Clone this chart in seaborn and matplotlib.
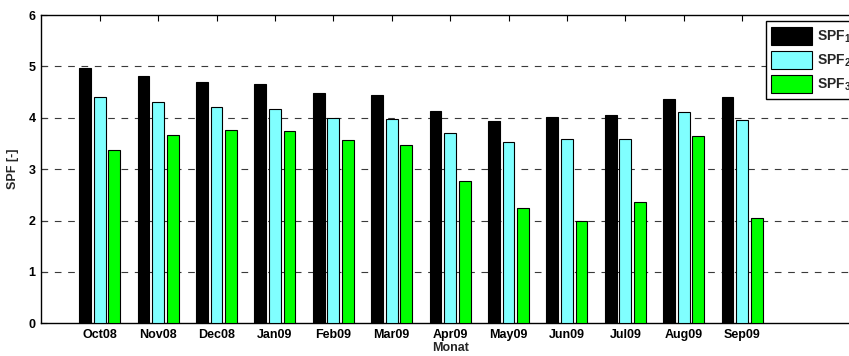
import matplotlib
matplotlib.use("Agg")
import matplotlib.pyplot as plt
import seaborn as sns
import pandas as pd

months = ["Oct08", "Nov08", "Dec08", "Jan09", "Feb09", "Mar09",
          "Apr09", "May09", "Jun09", "Jul09", "Aug09", "Sep09"]
spf1 = [4.96, 4.82, 4.69, 4.66, 4.49, 4.45, 4.14, 3.94, 4.02, 4.06, 4.36, 4.41]
spf2 = [4.41, 4.31, 4.21, 4.18, 4.00, 3.98, 3.71, 3.53, 3.59, 3.59, 4.12, 3.95]
spf3 = [3.37, 3.66, 3.77, 3.74, 3.57, 3.47, 2.77, 2.24, 1.99, 2.36, 3.65, 2.04]
series_labels = ["SPF$_1$", "SPF$_2$", "SPF$_3$"]
colors = ["#000000", "#80ffff", "#00ff00"]

rows = []
for lab, vals in zip(series_labels, [spf1, spf2, spf3]):
    for m, v in zip(months, vals):
        rows.append({"Monat": m, "SPF": v, "Serie": lab})
df = pd.DataFrame(rows)

sns.set_theme(style="white")
plt.rcParams["font.family"] = ["Liberation Sans", "DejaVu Sans"]
plt.rcParams["font.weight"] = "bold"
plt.rcParams["mathtext.fontset"] = "custom"
plt.rcParams["mathtext.rm"] = "Liberation Sans:bold"
plt.rcParams["mathtext.it"] = "Liberation Sans:bold"
plt.rcParams["mathtext.bf"] = "Liberation Sans:bold"

fig = plt.figure(figsize=(8.49, 3.56), dpi=100)
ax = fig.add_axes([41.3 / 849, 1 - 323.3 / 356, 817.6 / 849, 308.3 / 356])

sns.barplot(data=df, x="Monat", y="SPF", hue="Serie", order=months,
            hue_order=series_labels, palette=colors, width=0.75, gap=0.2,
            edgecolor="black", linewidth=0.8, saturation=1, ax=ax, zorder=3)

ax.set_xlim(-1, 13)
ax.set_ylim(0, 6)
ax.set_yticks(range(0, 7))
for y in range(1, 6):
    ax.axhline(y, color="#3a3a3a", linewidth=0.8, linestyle=(0, (6, 6)), zorder=1)

for side in ["top", "left", "bottom", "right"]:
    ax.spines[side].set_color("black")
    ax.spines[side].set_linewidth(1.0)
ax.tick_params(axis="x", which="both", direction="in", length=4, width=0.8,
               top=True, bottom=True, labelsize=9, pad=4, colors="black")
ax.tick_params(axis="y", direction="in", length=4, width=0.8,
               left=True, labelsize=9, pad=4, colors="black")
for t in ax.get_xticklabels() + ax.get_yticklabels():
    t.set_fontweight("bold")

ax.set_xlabel("Monat", fontsize=9, fontweight="bold", labelpad=1)
ax.set_ylabel("SPF [-]", fontsize=9, fontweight="bold", labelpad=7)

handles, labels = ax.get_legend_handles_labels()
ax.legend(handles, labels, loc="upper left",
          bbox_to_anchor=(765.7 / 849, 1 - 21.3 / 356),
          bbox_transform=fig.transFigure, fontsize=10, frameon=True,
          fancybox=False, framealpha=1, edgecolor="black",
          handlelength=2.9, handleheight=1.6, labelspacing=0.45,
          borderpad=0.4, handletextpad=0.4, borderaxespad=0)
ax.get_legend().get_frame().set_linewidth(1.0)

fig.savefig("out.png", dpi=100)
